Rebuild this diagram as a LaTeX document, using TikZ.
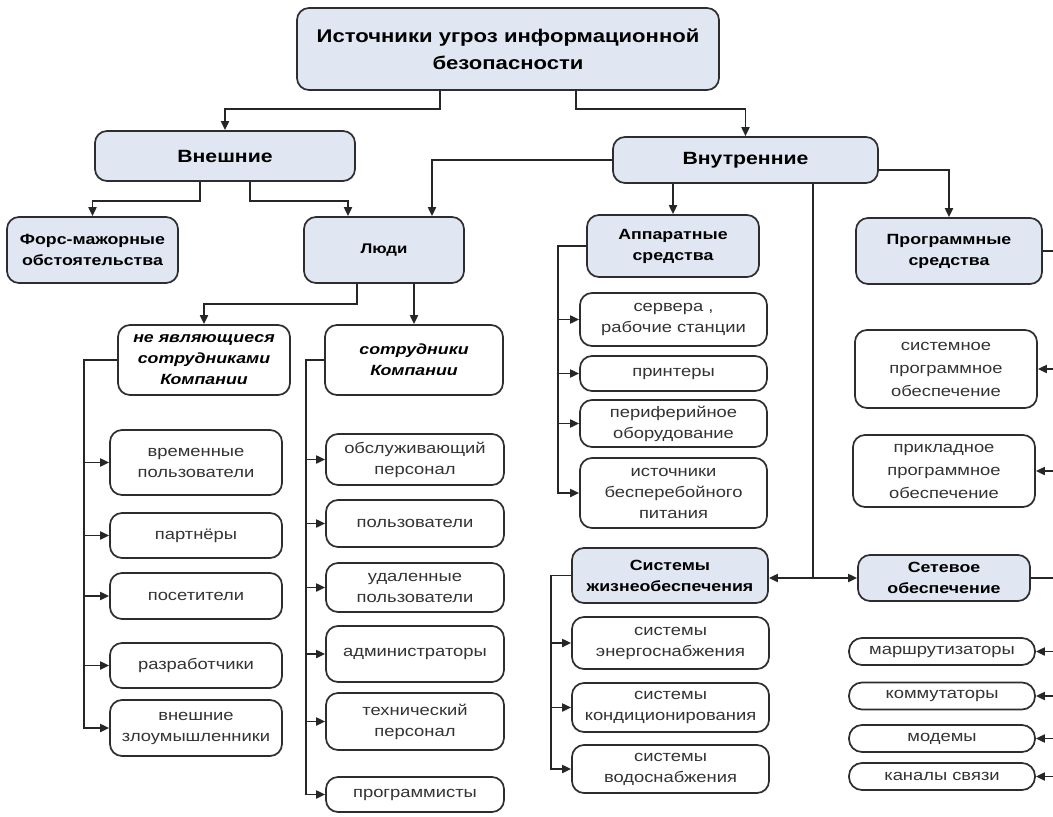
\documentclass[tikz,border=0pt]{standalone}
\usepackage{fontspec}
\setmainfont{Liberation Sans}[FakeStretch=1.2]
\usetikzlibrary{arrows.meta, positioning}
\definecolor{headfill}{RGB}{224,231,243}
\definecolor{boxline}{RGB}{45,45,45}

\begin{document}
\begin{tikzpicture}[x=1pt, y=-1pt,
    box/.style={draw=boxline, line width=1.7pt, rounded corners=12pt, align=center, inner sep=2pt},
    head/.style={box, fill=headfill, font=\bfseries\fontsize{14.8}{21}\selectfont},
    top/.style={head, font=\bfseries\fontsize{17.7}{27}\selectfont},
    staff/.style={box, fill=white, font=\bfseries\itshape\fontsize{14.8}{21}\selectfont},
    leaf/.style={box, fill=white, text=black!80, font=\fontsize{15.3}{21}\selectfont},
    arr/.style={line width=1.8pt, draw=black!85, -{Triangle[length=9pt, width=8pt]}},
    bus/.style={line width=1.8pt, draw=black!85}
  ]

  \useasboundingbox (0,0) rectangle (1053,817);
  \clip (0,0) rectangle (1053,817);
  \fill[white] (0,0) rectangle (1053,817);

  \node[top, minimum width=422pt, minimum height=82pt, font=\bfseries\fontsize{18.4}{27}\selectfont] (src) at (508,49) {Источники угроз информационной\\безопасности};
  \node[top, minimum width=260pt, minimum height=50pt] (ext) at (225,156) {Внешние};
  \node[top, minimum width=265pt, minimum height=46pt] (int) at (745.5,160) {Внутренние};

  \node[head, minimum width=171pt, minimum height=66pt] (fm) at (92.5,250) {Форс-мажорные\\обстоятельства};
  \node[head, minimum width=160pt, minimum height=66pt, font=\bfseries\fontsize{14}{21}\selectfont] (people) at (384,250) {Люди};
  \node[head, minimum width=172pt, minimum height=62pt] (hw) at (673,246) {Аппаратные\\средства};
  \node[head, minimum width=186pt, minimum height=66pt] (prog) at (949,251) {Программные\\средства};
  \node[head, minimum width=196pt, minimum height=55pt] (life) at (670,575.5) {Системы\\жизнеобеспечения};
  \node[head, minimum width=172pt, minimum height=46pt] (net) at (944,578) {Сетевое\\обеспечение};

  \node[staff, minimum width=172pt, minimum height=70pt] (ne) at (204,360) {не являющиеся\\сотрудниками\\Компании};
  \node[staff, minimum width=178pt, minimum height=70pt] (emp) at (414,360) {сотрудники\\Компании};

  % top level
  \draw[arr] ([xshift=-68pt]src.south) -- ++(0,18) -| (ext.north);
  \draw[arr] ([xshift=68pt]src.south) -- ++(0,18) -| (int.north);
  \draw[arr] ([xshift=-25pt]ext.south) -- ++(0,19) -| (fm.north);
  \draw[arr] ([xshift=25pt]ext.south) -- ++(0,19) -| ([xshift=-36pt]people.north);
  \draw[arr] (int.west) -| ([xshift=48pt]people.north);
  \draw[arr] (int.south -| hw.north) -- (hw.north);
  \draw[arr] ([yshift=-10pt]int.east) -| (prog.north);
  \coordinate (jn) at (813,578);
  \draw[bus] (int.south -| jn) -- (jn);
  \draw[arr] (jn) -- (jn -| life.east);
  \draw[arr] (jn) -- (net.west);
  \draw[arr] ([xshift=-27pt]people.south) -- ++(0,20) -| (ne.north);
  \draw[arr] (emp.north |- people.south) -- (emp.north);

  % people
  \foreach \n/\y/\h/\t in {1/462.5/65/{временные\\пользователи}, 2/535.5/45/партнёры, 3/596/46/посетители,
      4/665.5/45/разработчики, 5/728/56/{внешние\\злоумышленники}} {
      \node[leaf, minimum width=172pt, minimum height=\h pt] (ne-\n) at (196,\y) {\t};
      \draw[arr] (ne.west) -- ++(-33,0) |- (ne-\n.west);
    }
  \foreach \n/\y/\h/\t in {1/459.5/51/{обслуживающий\\персонал}, 2/523.5/47/пользователи, 3/587.5/49/{удаленные\\пользователи},
      4/654/56/администраторы, 5/721.5/57/{технический\\персонал}, 6/794.5/35/программисты} {
      \node[leaf, minimum width=178pt, minimum height=\h pt] (emp-\n) at (415,\y) {\t};
      \draw[arr] (emp.west) -- ++(-18,0) |- (emp-\n.west);
    }

  % hardware, life support
  \foreach \n/\y/\h/\t in {1/319.5/53/{сервера ,\\рабочие станции}, 2/373.5/35/принтеры,
      3/423.5/47/{периферийное\\оборудование}, 4/493/70/{источники\\бесперебойного\\питания}} {
      \node[leaf, minimum width=187pt, minimum height=\h pt] (hw-\n) at (673.5,\y) {\t};
      \draw[arr] (hw.west) -- ++(-28,0) |- (hw-\n.west);
    }
  \foreach \n/\y/\h/\t in {1/643/52/{системы\\энергоснабжения}, 2/707.5/49/{системы\\кондиционирования},
      3/769/48/{системы\\водоснабжения}} {
      \node[leaf, minimum width=197pt, minimum height=\h pt] (life-\n) at (670.5,\y) {\t};
      \draw[arr] (life.west) -- ++(-20,0) |- (life-\n.west);
    }

  % software, network
  \foreach \n/\x/\y/\h/\t in {1/946/369/78/{системное\\программное\\обеспечение}, 2/944/471/72/{прикладное\\программное\\обеспечение}} {
      \node[leaf, minimum width=182pt, minimum height=\h pt, font=\fontsize{15.3}{23}\selectfont] (sw-\n) at (\x,\y) {\t};
      \draw[arr] (prog.east) -- ++(20,0) |- (sw-\n.east);
    }
  \foreach \n/\y/\t in {1/651.5/маршрутизаторы, 2/696/коммутаторы, 3/738.5/модемы, 4/776.5/каналы связи} {
      \node[leaf, minimum width=186pt, minimum height=27pt, rounded corners=13pt, inner sep=1pt] (nw-\n) at (942,\y) {\t};
      \draw[arr] (net.east) -- ++(32,0) |- (nw-\n.east);
    }

\end{tikzpicture}
\end{document}
